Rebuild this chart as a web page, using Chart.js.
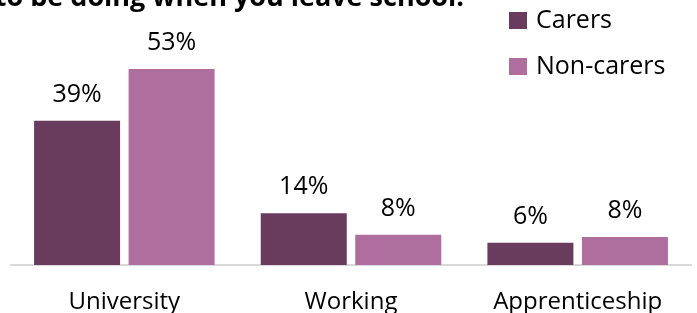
<!DOCTYPE html>
<html>
<head>
<meta charset="utf-8">
<script src="https://cdn.jsdelivr.net/npm/chart.js@4/dist/chart.umd.min.js"></script>
<style>
  html, body { margin: 0; padding: 0; background: #fff; overflow: hidden; }
  #wrap { position: relative; width: 697px; height: 313px; }
  #myChart { display: block; width: 697px; height: 313px; }
</style>
</head>
<body>
<div id="wrap"><canvas id="myChart" width="697" height="313"></canvas></div>
<script>
const categories = ['University', 'Working', 'Apprenticeship'];
const carers = [39, 14, 6];
const nonCarers = [53, 8.2, 7.6];
const seriesNames = ['Carers', 'Non-carers'];
const colours = ['#693c5e', '#ae6f9e'];
const titleText = 'What would you like to be doing when you leave school.';

const FONT = "'Open Sans', sans-serif";

// title (cropped at the top in the original)
const titlePlugin = {
    id: 'croppedTitle',
    afterDraw(chart) {
        const c = chart.ctx;
        c.save();
        c.font = 'bold 27px ' + FONT;
        c.fillStyle = '#000';
        c.textAlign = 'right';
        c.textBaseline = 'alphabetic';
        c.fillText(titleText, 464, 6);
        c.restore();
    }
};

// value labels above the bars
const valueLabels = {
    id: 'valueLabels',
    afterDatasetsDraw(chart) {
        const c = chart.ctx;
        c.save();
        c.font = '25px ' + FONT;
        c.fillStyle = '#000';
        c.textAlign = 'center';
        c.textBaseline = 'alphabetic';
        chart.data.datasets.forEach((ds, i) => {
            chart.getDatasetMeta(i).data.forEach((bar, j) => {
                c.fillText(Math.round(ds.data[j]) + '%', bar.x, bar.y - 19);
            });
        });
        c.restore();
    }
};

// legend at top right
const sideLegend = {
    id: 'sideLegend',
    afterDraw(chart) {
        const c = chart.ctx;
        c.save();
        c.font = '25px ' + FONT;
        c.textBaseline = 'middle';
        c.textAlign = 'left';
        chart.data.datasets.forEach((ds, i) => {
            const y = 12 + i * 46;
            c.fillStyle = ds.backgroundColor;
            c.fillRect(509, y, 18, 17);
            c.fillStyle = '#000';
            c.fillText(ds.label, 536, y + 9);
        });
        c.restore();
    }
};

const ctx = document.getElementById('myChart');
const myChart = new Chart(ctx, {
    type: 'bar',
    data: {
        labels: categories,
        datasets: [
            { label: seriesNames[0], data: carers, backgroundColor: colours[0] },
            { label: seriesNames[1], data: nonCarers, backgroundColor: colours[1] }
        ]
    },
    options: {
        responsive: false,
        animation: false,
        devicePixelRatio: 1,
        categoryPercentage: 0.834,
        barPercentage: 0.91,
        layout: { padding: { top: 43, left: 11, right: 6, bottom: 0 } },
        plugins: {
            legend: { display: false },
            title: { display: false },
            tooltip: { enabled: false }
        },
        scales: {
            x: {
                grid: { display: false, drawTicks: false },
                border: { display: true, color: '#d9d9d9', width: 2 },
                ticks: { color: '#000', padding: 23, font: { family: FONT, size: 24 } },
                afterFit(scale) { scale.height = 48; }
            },
            y: {
                display: false,
                min: 0,
                max: 60
            }
        }
    },
    plugins: [titlePlugin, valueLabels, sideLegend]
});
</script>
</body>
</html>
